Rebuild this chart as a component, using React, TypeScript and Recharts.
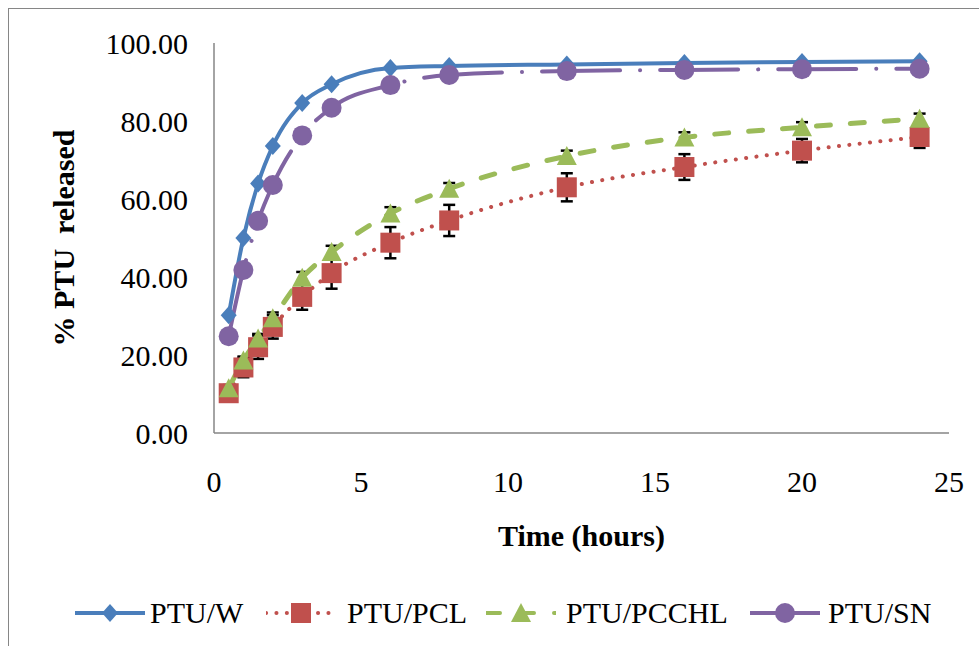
import { LineChart, Line, XAxis, YAxis, ErrorBar, Legend } from "recharts";

// sampling times (hours)
const times = [0.5, 1, 1.5, 2, 3, 4, 6, 8, 12, 16, 20, 24];

// % PTU released
const ptuW = [30.2, 50.0, 64.0, 73.6, 84.6, 89.4, 93.6, 94.1, 94.5, 94.9, 95.1, 95.3];
const ptuPCL = [10.2, 16.8, 22.0, 27.2, 34.9, 41.0, 48.8, 54.5, 63.0, 68.2, 72.4, 75.9];
const ptuPCCHL = [11.5, 18.6, 24.2, 29.4, 39.8, 46.4, 56.3, 62.6, 71.0, 75.8, 78.4, 80.6];
const ptuSN = [24.8, 41.8, 54.4, 63.6, 76.3, 83.4, 89.2, 91.8, 92.8, 93.1, 93.3, 93.4];

// standard deviations
const pclErr = [1.5, 2.5, 3.0, 3.0, 3.3, 4.0, 4.0, 4.0, 3.6, 3.3, 3.0, 2.8];
const pcchlErr = [0.8, 1.0, 1.2, 1.5, 1.5, 1.6, 1.6, 1.5, 1.4, 1.3, 1.3, 1.3];

const xTicks = [0, 5, 10, 15, 20, 25];
const yTicks = [0, 20, 40, 60, 80, 100];

const seriesNames = ["PTU/W", "PTU/PCL", "PTU/PCCHL", "PTU/SN"];

const data = times.map((t, i) => ({
  t,
  w: ptuW[i],
  pcl: ptuPCL[i],
  pclErr: pclErr[i],
  pcchl: ptuPCCHL[i],
  pcchlErr: pcchlErr[i],
  sn: ptuSN[i],
}));

const FONT = '"Liberation Serif", "Times New Roman", serif';
const BLUE = "#4A7EBB";
const RED = "#C0504D";
const GREEN = "#9BBB59";
const PURPLE = "#8064A2";
const AXIS = "#868686";

const RED_DASH = "0.1 10.3";
const GREEN_DASH = "14 20";
const PURPLE_DASH = "78 20 0.1 20";

function diamond(cx: number, cy: number, key?: any) {
  return <polygon key={key} points={`${cx},${cy - 9} ${cx + 8},${cy} ${cx},${cy + 9} ${cx - 8},${cy}`} fill={BLUE} />;
}
function square(cx: number, cy: number, key?: any) {
  return <rect key={key} x={cx - 10} y={cy - 10} width={20} height={20} fill={RED} />;
}
function triangle(cx: number, cy: number, key?: any) {
  return <polygon key={key} points={`${cx},${cy - 10} ${cx + 10},${cy + 9} ${cx - 10},${cy + 9}`} fill={GREEN} />;
}
function circle(cx: number, cy: number, key?: any) {
  return <circle key={key} cx={cx} cy={cy} r={10} fill={PURPLE} />;
}

const mk = (fn: (cx: number, cy: number, key?: any) => any) => (p: any) =>
  p.cx == null || p.cy == null ? <g key={p.index} /> : fn(p.cx, p.cy, p.index);

const legendLayout = [
  { color: BLUE, dash: undefined, marker: diamond, iconX: 75, textX: 150 },
  { color: RED, dash: RED_DASH, marker: square, iconX: 266, textX: 347 },
  { color: GREEN, dash: GREEN_DASH, marker: triangle, iconX: 486, textX: 566 },
  { color: PURPLE, dash: PURPLE_DASH, marker: circle, iconX: 750, textX: 828 },
];

function LegendBox() {
  return (
    <div style={{ position: "relative", width: 979, height: 50 }}>
      {seriesNames.map((name, i) => {
        const l = legendLayout[i];
        return (
          <div key={name}>
            <svg width={70} height={40} style={{ position: "absolute", left: l.iconX, top: 5 }}>
              <line x1={0} y1={20} x2={70} y2={20} stroke={l.color} strokeWidth={4} strokeDasharray={l.dash} strokeLinecap="round" />
              {l.marker(35, 20)}
            </svg>
            <span
              style={{
                position: "absolute",
                left: l.textX,
                top: 5,
                fontFamily: FONT,
                fontSize: 30,
                lineHeight: "40px",
                color: "#000",
                whiteSpace: "nowrap",
              }}
            >
              {name}
            </span>
          </div>
        );
      })}
    </div>
  );
}

function YTitle(props: any) {
  const vb = props.viewBox || { x: 14, y: 43, height: 390 };
  const x = vb.x + 49;
  const y = vb.y + vb.height / 2;
  return (
    <text
      x={x}
      y={y}
      dy="0.35em"
      transform={`rotate(-90, ${x}, ${y})`}
      textAnchor="middle"
      fontFamily={FONT}
      fontSize={30}
      fontWeight="bold"
      fill="#000"
      style={{ whiteSpace: "pre" }}
    >
      % PTU  released
    </text>
  );
}

function XTitle(props: any) {
  const vb = props.viewBox || { x: 214, y: 433, width: 735 };
  return (
    <text x={vb.x + vb.width / 2} y={vb.y + 113} textAnchor="middle" fontFamily={FONT} fontSize={30} fontWeight="bold" fill="#000">
      Time (hours)
    </text>
  );
}

export default function App() {
  const tick = { fontFamily: FONT, fontSize: 30, fill: "#000" };
  return (
    <div style={{ position: "fixed", left: 0, top: 0, width: 979, height: 646, overflow: "hidden", background: "#fff" }}>
      <div
        style={{
          position: "absolute",
          left: 8,
          top: 8,
          width: 1100,
          height: 800,
          borderLeft: `1.5px solid ${AXIS}`,
          borderTop: `1.5px solid ${AXIS}`,
        }}
      />
      <div style={{ position: "absolute", left: 0, top: 0 }}>
        <LineChart width={979} height={646} data={data} margin={{ top: 43, right: 30, left: 14, bottom: 93 }}>
          <XAxis
            dataKey="t"
            type="number"
            domain={[0, 25]}
            ticks={xTicks}
            tick={tick}
            tickLine={false}
            tickMargin={32}
            height={120}
            axisLine={{ stroke: AXIS, strokeWidth: 1.5 }}
            label={<XTitle />}
          />
          <YAxis
            type="number"
            domain={[0, 100]}
            ticks={yTicks}
            tick={tick}
            tickFormatter={(v: number) => v.toFixed(2)}
            tickLine={false}
            tickMargin={20}
            width={200}
            axisLine={{ stroke: AXIS, strokeWidth: 1.5 }}
            label={<YTitle />}
          />
          <Legend
            layout="horizontal"
            verticalAlign="middle"
            align="center"
            wrapperStyle={{ top: 588, left: 0, width: 979 }}
            content={() => <LegendBox />}
          />
          <Line
            dataKey="w"
            name={seriesNames[0]}
            type="monotone"
            stroke={BLUE}
            strokeWidth={4}
            dot={mk(diamond)}
            activeDot={false}
            isAnimationActive={false}
          />
          <Line
            dataKey="pcl"
            name={seriesNames[1]}
            type="monotone"
            stroke={RED}
            strokeWidth={4}
            strokeDasharray={RED_DASH}
            strokeLinecap="round"
            dot={mk(square)}
            activeDot={false}
            isAnimationActive={false}
          >
            <ErrorBar dataKey="pclErr" direction="y" width={6} strokeWidth={2.5} stroke="#000" />
          </Line>
          <Line
            dataKey="pcchl"
            name={seriesNames[2]}
            type="monotone"
            stroke={GREEN}
            strokeWidth={5}
            strokeDasharray={GREEN_DASH}
            strokeLinecap="round"
            dot={mk(triangle)}
            activeDot={false}
            isAnimationActive={false}
          >
            <ErrorBar dataKey="pcchlErr" direction="y" width={6} strokeWidth={2.5} stroke="#000" />
          </Line>
          <Line
            dataKey="sn"
            name={seriesNames[3]}
            type="monotone"
            stroke={PURPLE}
            strokeWidth={4}
            strokeDasharray={PURPLE_DASH}
            strokeLinecap="round"
            dot={mk(circle)}
            activeDot={false}
            isAnimationActive={false}
          />
        </LineChart>
      </div>
    </div>
  );
}
